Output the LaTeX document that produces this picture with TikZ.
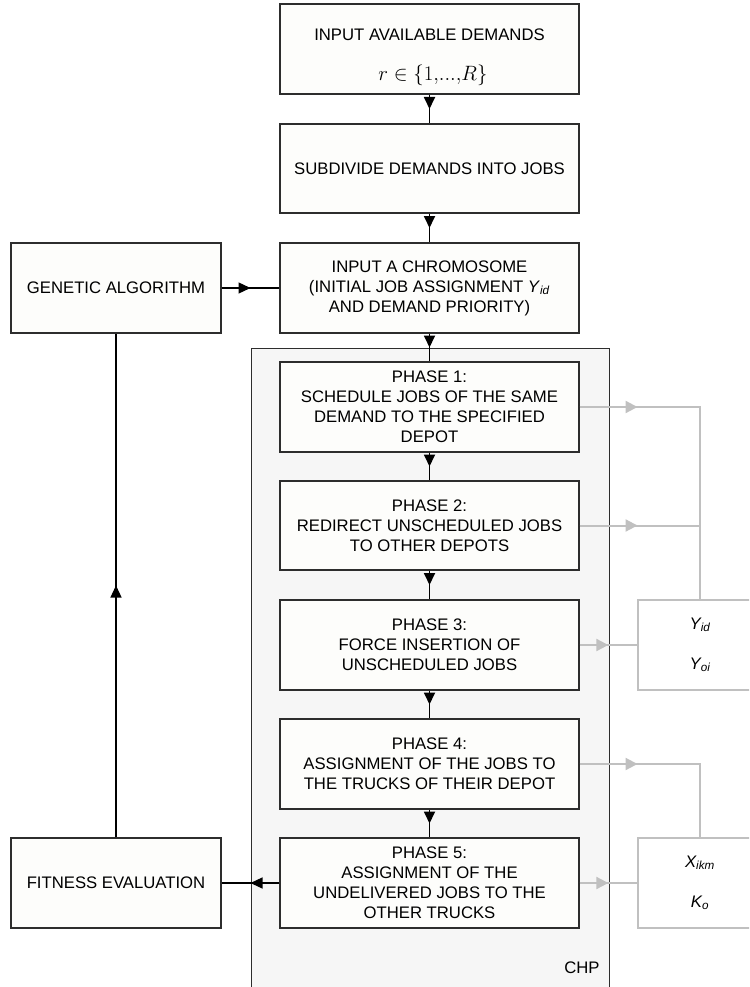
\documentclass[tikz,border=0pt]{standalone}
\usepackage{fontspec}
\setmainfont{Liberation Sans}
\usetikzlibrary{arrows.meta,decorations.markings,calc}
\definecolor{linegray}{RGB}{192,192,192}
\definecolor{chpfill}{RGB}{246,246,246}
\definecolor{boxfill}{RGB}{253,253,251}
\definecolor{edge}{RGB}{45,45,45}
\tikzset{
  txt/.style={font=\fontsize{16.7}{20}\selectfont},
  flowbox/.style={draw=edge, line width=1.1pt, fill=boxfill, minimum width=299pt, minimum height=90pt, inner sep=0pt, align=center, txt},
  sidebox/.style={flowbox, minimum width=210pt},
  outbox/.style={draw=linegray, line width=1.8pt, fill=white, minimum width=124pt, minimum height=90pt, inner sep=0pt, align=center, font=\fontsize{16.7}{40}\selectfont\itshape},
  blackconn/.style={line width=1.8pt, postaction={decorate}, decoration={markings, mark=at position #1 with {\arrow{Triangle[length=12pt,width=11pt]}}}},
  blackconn/.default=0.5,
  thinconn/.style={line width=1.3pt, postaction={decorate}, decoration={markings, mark=at position 0.5 with {\arrow{Triangle[length=12pt,width=11pt]}}}},
  thickhalf/.style={line width=2.2pt},
  grayconn/.style={draw=linegray, line width=2pt, postaction={decorate}, decoration={markings, mark=at position #1 with {\arrow[linegray]{Triangle[length=12pt,width=12pt]}}}},
  grayconn/.default=0.5,
}
\begin{document}
\begin{tikzpicture}[x=1pt,y=-1pt]
\useasboundingbox (0,0) rectangle (749,987);
\clip (0,0) rectangle (749,987);
% CHP container
\node[draw=edge, line width=1pt, fill=chpfill, minimum width=358pt, minimum height=660pt, inner sep=0pt, anchor=north west] (chp) at (251,348) {};
\node[txt] (chplabel) at (582,968) {CHP};
% main column
\node[flowbox] (b1) at (429.5,49) {};
\node[txt] (b1t) at (429.5,35) {INPUT AVAILABLE DEMANDS};
\node[font=\fontsize{19.5}{22}\selectfont] (b1m) at (433,75) {$r\in\big\{1{,}...{,}R\big\}$};
\node[flowbox, minimum height=89pt] (b2) at (429.5,168.5) {SUBDIVIDE DEMANDS INTO JOBS};
\node[flowbox] (b3) at (429.5,288) {INPUT A CHROMOSOME\\(INITIAL JOB ASSIGNMENT \textit{Y}\textsubscript{\textit{id}}\\AND DEMAND PRIORITY)};
\node[flowbox] (p1) at (429.5,407) {PHASE 1:\\SCHEDULE JOBS OF THE SAME\\DEMAND TO THE SPECIFIED\\DEPOT};
\node[flowbox, minimum height=89pt] (p2) at (429.5,525.5) {PHASE 2:\\REDIRECT UNSCHEDULED JOBS\\TO OTHER DEPOTS};
\node[flowbox] (p3) at (429.5,645) {PHASE 3:\\FORCE INSERTION OF\\UNSCHEDULED JOBS};
\node[flowbox] (p4) at (429.5,764) {PHASE 4:\\ASSIGNMENT OF THE JOBS TO\\THE TRUCKS OF THEIR DEPOT};
\node[flowbox] (p5) at (429.5,883) {PHASE 5:\\ASSIGNMENT OF THE\\UNDELIVERED JOBS TO THE\\OTHER TRUCKS};
% side boxes
\node[sidebox] (ga) at (116,288) {GENETIC ALGORITHM};
\node[sidebox] (fit) at (116,883) {FITNESS EVALUATION};
% output boxes
\node[outbox] (ybox) at (700,645) {Y\textsubscript{id}\\Y\textsubscript{oi}};
\node[outbox] (xbox) at (700,883) {X\textsubscript{ikm}\\K\textsubscript{o}};
% black connectors
\draw[blackconn] (b1.south) -- (b2.north);
\draw[blackconn] (b2.south) -- (b3.north);
\draw[blackconn] (b3.south) -- (p1.north);
\draw[blackconn] (p1.south) -- (p2.north);
\draw[blackconn] (p2.south) -- (p3.north);
\draw[blackconn] (p3.south) -- (p4.north);
\draw[blackconn] (p4.south) -- (p5.north);
\draw[thinconn] (ga.east) -- (b3.west);
\draw[thickhalf] (ga.east) -- ($(ga.east)!0.5!(b3.west)$);
\draw[thinconn] (fit.north) -- (ga.south);
\draw[thickhalf] (fit.north) -- ($(fit.north)!0.5!(ga.south)$);
\draw[thinconn] (p5.west) -- (fit.east);
\draw[thickhalf] (p5.west) -- ($(p5.west)!0.5!(fit.east)$);
% gray connectors
\draw[grayconn=58pt] (p1.east) -- (p1.east -| ybox.north) -- (ybox.north);
\draw[grayconn=58pt] (p2.east) -- (p2.east -| ybox.north);
\draw[grayconn] (p3.east) -- (ybox.west);
\draw[grayconn=58pt] (p4.east) -- (p4.east -| xbox.north) -- (xbox.north);
\draw[grayconn] (p5.east) -- (xbox.west);
\end{tikzpicture}
\end{document}
